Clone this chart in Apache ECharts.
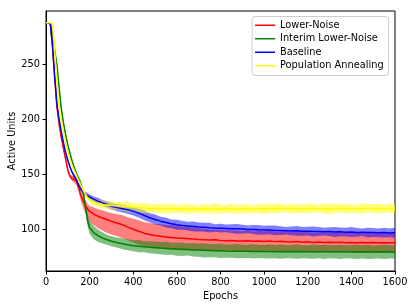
<!DOCTYPE html>
<html><head><meta charset="utf-8">
<script src="https://cdn.jsdelivr.net/npm/echarts@6/dist/echarts.min.js"></script>
<style>html,body{margin:0;padding:0;background:#fff}#c{width:415px;height:308px}</style>
</head><body><div id="c"></div>
<script>
const epochs = [0,10,20,30,40,50,60,70,80,90,100,110,120,130,140,150,160,170,180,190,200,
  220,240,260,280,
  300,325,350,375,400,425,450,475,500,525,550,575,600,625,650,675,700,725,750,775,800,825,850,875,900,925,950,975,
  1000,1025,1050,1075,1100,1125,1150,1175,1200,1225,1250,1275,1300,1325,1350,1375,1400,1425,1450,1475,1500,1525,1550,1575,1600];

const seriesNames = ['Lower-Noise','Interim Lower-Noise','Baseline','Population Annealing'];
const xTicks = [0,200,400,600,800,1000,1200,1400,1600];
const yTicks = [100,150,200,250];

const lowerNoise = [288,288,287,266,238,212,196,184,174,164,154,148.5,146.5,145.5,144,138,131,126,122,119,116.5,
  114,112,110.5,109,
  107.5,106,104.5,102.3,100.3,98.5,96.8,95.5,94.6,93.9,93.3,92.9,92.5,92.2,91.8,91.4,91.1,90.9,90.5,90.7,90.1,89.9,90.2,89.7,89.6,89.9,89.4,89.7,
  89.3,89.6,89.1,89.4,89,88.7,89.2,88.6,88.9,88.4,88.7,88.3,88.6,88.2,88.5,88,88.4,87.9,88.3,88,88.2,87.8,88.1,87.9,88.2];
const lowerNoiseSpreadUp = [0,0,1,2,2,2,2,2,2,2,2,2,2.5,3,3,3.5,4,4.5,5,5,5,
  6,6.5,7,7,
  7.5,8,8.5,9,9.5,10,10,10.5,10.5,11,11,11,11,10.5,10.5,10,10,10,9.5,9.5,9.5,9.5,9,9.5,9,9.5,9,9.5,
  9,9.5,9,9,9.5,9,9,9.5,9,8.5,9,9,8.5,9,8.5,9,8.5,9,8.5,9,8.5,9,8.5,9,8.5];
const lowerNoiseSpreadDown = [0,0,1,2,2,2,2,2,2,2,2,2,2.5,3,3.5,4,5,6,7,8,9,
  10,11,11.5,12,
  12,12,12,12,12,12,11.5,11.5,11.5,11,11,11,11,11,10.5,10.5,10,10,10,9.5,9.5,9.5,9,9.5,9,9,9.5,9,
  9,8.5,9,9,8.5,9,8.5,9,8.5,9,8.5,8.5,9,8.5,8.5,9,8.5,8.5,9,8.5,8.5,9,8.5,8.5,9];

const interim = [288,288,287,277,263,250,229,210,197,186,177,169,162,156,150,146,141,134,122,109,102,
  97,94.3,92.3,90.8,
  89.4,88.3,87.2,86.2,85.4,85,84.5,84,83.6,83.2,82.9,82.6,82.3,82.1,81.9,81.6,81.4,81.2,81,80.9,80.7,80.5,80.4,80.4,80.3,80.3,80.2,80.2,
  80.1,80.2,80,80.1,79.9,80,80.1,79.9,79.8,80,79.9,79.8,79.9,79.7,79.8,79.9,79.7,79.8,79.7,79.8,79.6,79.7,79.8,79.7,79.7];
const interimSpread = [0,0,1,1.5,1.5,1.5,1.5,1.5,1.5,1.5,1.5,1.5,2,2,2.5,3,3.5,4,5,5.5,6,
  6,5.5,5,4.5,
  4.5,4.5,5,5,5,5.5,5,5.5,5.5,5.5,6,5.5,6,6,5.5,6,6,6.5,6,6,6.5,6,6,6.5,6,6,6.5,6,
  6,6.5,6,6.5,6,6,6.5,6,6,6.5,6,6.5,6,6,6.5,6,6,6.5,6,6.5,6,6,6.5,6,6];

const baseline = [288,288,287,267,239,214,200,189,179,170,163,157,152,148.5,145,140.5,137,134.5,132.5,131,129.5,
  127.5,125.8,124.3,122.8,
  121.3,120,119,118,116.8,115,113,110.8,109.2,107.7,106.4,105.3,104.5,103.8,103.2,102.8,102.4,102.2,101.8,101.5,101.3,101.1,100.9,100.7,100.5,100.2,100.1,99.8,
  99.6,99.7,99.3,99.1,99,98.8,98.9,98.5,98.6,98.3,98.4,98.1,98.2,97.9,98,97.7,97.8,97.5,97.6,97.3,97.4,97.1,97.3,97,97.1];
const baselineSpread = [0,0,1,1.5,1.5,1.5,1.5,1.5,1.5,1.5,1.5,1.5,1.5,1.5,2,2,2,2,2,2.5,2.5,
  2.5,3,2.5,3,
  3,3,3.5,3.5,4,4,4.5,4,4.5,4,4.5,4,4.5,4,4,4.5,4,4,4.5,3.5,4,3.5,4,4.5,4,3.5,4,4.5,
  4,4,4.5,4,3.5,4,4.5,4,4,4.5,4,3.5,4,4.5,4,4,4.5,4,3.5,4.5,4,4,4.5,4,4.5];

const popAnnealing = [288,288,288,287,262,236,213,200,189,179,171,164,158,153.5,149,144.5,140,136,132.5,129.5,127,
  124.8,123.5,122.8,122.4,
  122,121.6,121.2,120.8,120.3,119.9,119.6,119.3,119.5,119.2,118.9,119.3,118.8,119.2,118.6,119.1,118.5,119,118.7,119.3,118.6,118.9,119.2,118.5,118.8,119.1,118.6,119.3,
  118.8,119.4,119,119.6,119.1,119.4,118.9,119.3,119,119.5,119,119.3,118.8,119.2,119.5,119,119.3,118.9,119.2,119.6,119.1,119.4,119,119.5,119.2];
const popAnnealingSpread = [0,0,0,1,1,1,1,1,1,1,1.5,1.5,1.5,1.5,1.5,2,2,2,2.5,2.5,3,
  3,3.5,3.5,3.5,
  4,3.5,4,4.5,3.5,4,4.5,4,3.5,4.5,4,4.5,3.5,4,4.5,4,3.5,4.5,4,5,4,3.5,4.5,4,4,4.5,3.5,4,
  5,4,4.5,4,3.5,4.5,4,4,4.5,4,3.5,4.5,5,4,4,4.5,3.5,4,4.5,4,4,4.5,3.5,4.5,4];

const means = [lowerNoise, interim, baseline, popAnnealing];
const spreadsUp = [lowerNoiseSpreadUp, interimSpread, baselineSpread, popAnnealingSpread];
const spreadsDown = [lowerNoiseSpreadDown, interimSpread, baselineSpread, popAnnealingSpread];
const lineColors = ['#ff0000','#008000','#0000ff','#ffff00'];
const bandColors = ['rgba(255,0,0,0.5)','rgba(0,128,0,0.5)','rgba(0,0,255,0.5)','rgba(255,255,0,0.5)'];

const FONT = 'DejaVu Sans';
const series = [];
means.forEach(function(m, k){
  const su = spreadsUp[k], sd = spreadsDown[k];
  const n = Math.min(epochs.length, m.length, su.length, sd.length);
  const data = [];
  for (let i = 0; i < n; i++) data.push([epochs[i], m[i]-sd[i], m[i]+su[i]]);
  series.push({
    type:'custom', name:'band'+k, silent:true, clip:true, z:1,
    encode:{x:0, y:[1,2]},
    data: data,
    renderItem: function(params, api){
      if (params.dataIndex !== 0) return null;
      const pts = [];
      for (let i = 0; i < n; i++) pts.push(api.coord([data[i][0], data[i][2]]));
      for (let i = n-1; i >= 0; i--) pts.push(api.coord([data[i][0], data[i][1]]));
      return {type:'polygon', shape:{points:pts}, style:{fill:bandColors[k], stroke:null}};
    }
  });
});
means.forEach(function(m, k){
  const n = Math.min(epochs.length, m.length);
  const data = [];
  for (let i = 0; i < n; i++) data.push([epochs[i], m[i]]);
  series.push({
    type:'line', name:seriesNames[k], data:data, showSymbol:false, symbol:'none', z:3,
    color: lineColors[k],
    lineStyle:{color:lineColors[k], width:1.5}, clip:true, silent:true
  });
});

const chart = echarts.init(document.getElementById('c'), null, {renderer:'canvas'});
chart.setOption({
  animation:false,
  backgroundColor:'#fff',
  textStyle:{fontFamily:FONT},
  grid:{left:46, right:20, top:11, bottom:37, show:true, borderColor:'#000', borderWidth:1, backgroundColor:'transparent',
    containLabel:false, outerBoundsMode:'none'},
  legend:{
    data:seriesNames, orient:'vertical', left:252, top:16.5,
    padding:[2,5,3,3], itemGap:0, itemWidth:20, itemHeight:1.5, icon:'rect',
    backgroundColor:'rgba(255,255,255,0.8)', borderColor:'#cccccc', borderWidth:1, borderRadius:3,
    textStyle:{fontFamily:FONT, fontSize:9.8, color:'#000', lineHeight:13.5}
  },
  xAxis:{
    type:'value', min:0, max:1600, interval:200,
    name:'Epochs', nameLocation:'middle', nameGap:19,
    nameTextStyle:{fontFamily:FONT, fontSize:9.8, color:'#000'},
    axisLine:{show:true, lineStyle:{color:'#000', width:1}},
    axisTick:{show:true, inside:false, length:3.5, lineStyle:{color:'#000'}, customValues:xTicks},
    axisLabel:{fontFamily:FONT, fontSize:9.8, color:'#000', margin:6, customValues:xTicks,
      formatter:function(v){ return String(v); }},
    splitLine:{show:false}
  },
  yAxis:{
    type:'value', min:62.4, max:298.7,
    name:'Active Units', nameLocation:'middle', nameGap:29, nameMoveOverlap:false,
    nameTextStyle:{fontFamily:FONT, fontSize:9.8, color:'#000'},
    axisLine:{show:true, lineStyle:{color:'#000', width:1}},
    axisTick:{show:true, inside:false, length:3.5, lineStyle:{color:'#000'}, customValues:yTicks},
    axisLabel:{fontFamily:FONT, fontSize:9.8, color:'#000', margin:6, customValues:yTicks,
      formatter:function(v){ return String(v); }},
    splitLine:{show:false}
  },
  series:series
});
</script>
</body></html>
